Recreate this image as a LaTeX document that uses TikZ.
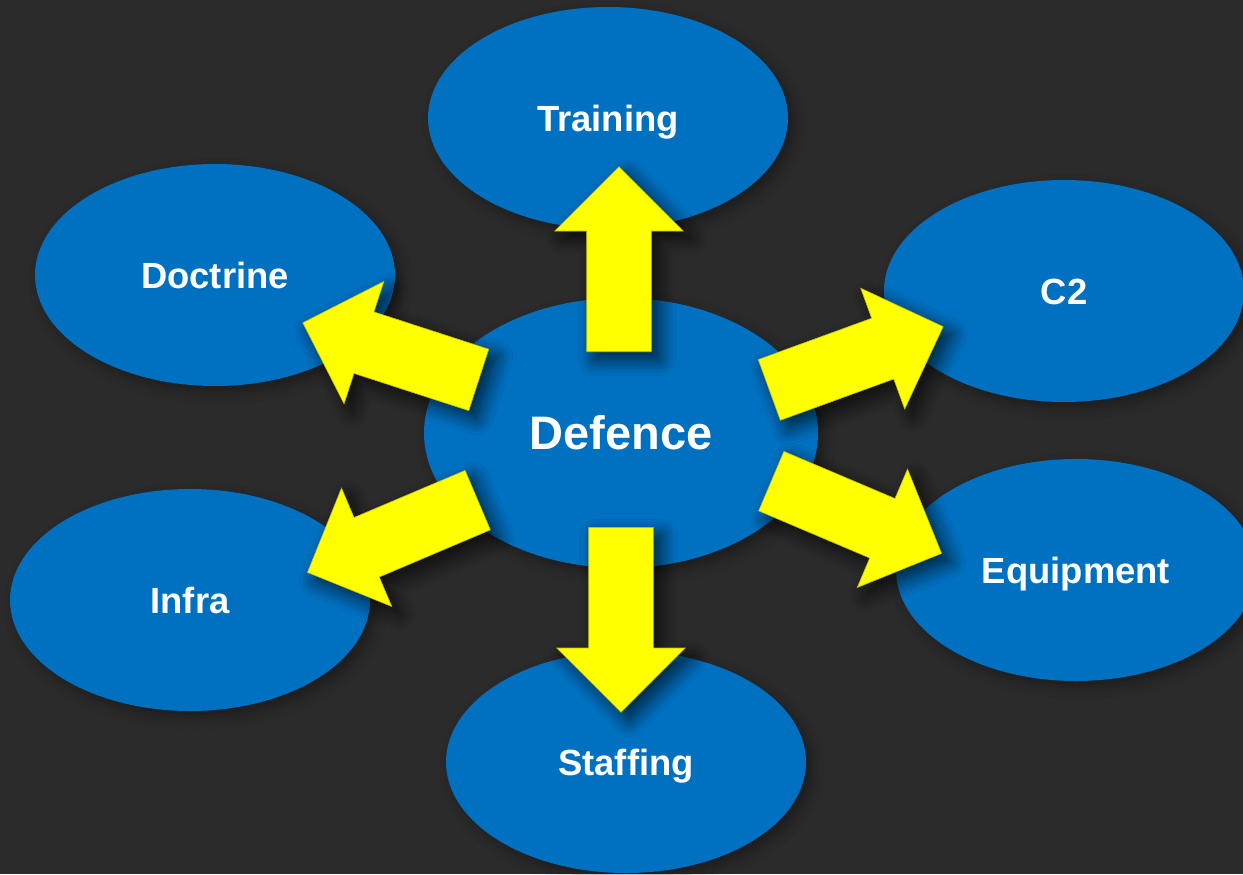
\documentclass[tikz,border=0pt]{standalone}
\usepackage{fontspec}
\setmainfont{Liberation Sans}
\usetikzlibrary{shapes.geometric,shapes.arrows,shadows.blur}
\definecolor{bgdark}{HTML}{2B2B2B}
\definecolor{capblue}{HTML}{0070C0}
\definecolor{pushyellow}{RGB}{255,255,0}
\tikzset{push/.style={single arrow,fill=pushyellow,draw=pushyellow!75!black,line width=0.3pt,anchor=tail,rotate=#1,
    inner xsep=0pt,inner ysep=16pt,text height=0pt,text depth=0pt,minimum height=92.5pt,
    single arrow head extend=16pt,single arrow head indent=0pt,
    blur shadow={shadow xshift=4pt,shadow yshift=-4pt,shadow blur radius=8pt,shadow blur steps=10,shadow opacity=70}}}
\begin{document}
\begin{tikzpicture}[x=0.5pt,y=-0.5pt]
        \tikzstyle{every node}=[text=white,font=\bfseries\fontsize{18.2}{20}\selectfont]
        \tikzstyle{area}=[ellipse,fill=capblue,inner sep=0pt,minimum width=180pt,minimum height=111pt,
            text height=13pt,text depth=0pt,
            blur shadow={shadow xshift=3pt,shadow yshift=-3pt,shadow blur radius=6pt,shadow opacity=35}]
        \fill[bgdark] (0,0) rectangle (1243,874);
        \useasboundingbox (0,0) rectangle (1243,874);
        % the six areas round the centre
        \node[area] (training) at (608,118) {Training};
        \node[area] (doctrine) at (215,275) {Doctrine};
        \node[area] (ctwo) at (1064,291) {C2};
        \node[area] (infra) at (190,600) {Infra};
        \node[area] (equipment) at (1076,570) {Equipment};
        \node[area] (staffing) at (626,762) {Staffing};
        \node[area,minimum width=197pt,minimum height=135pt,text height=16.8pt,
            font=\bfseries\fontsize{23.5}{26}\selectfont] (defence) at (621,433) {Defence};
        % arrows out of the centre
        \node[push=90] (toTraining) at (619,352) {};
        \node[push=-90] (toStaffing) at (621,527) {};
        \node[push=20] (toCtwo) at (769,390) {};
        \node[push=162] (toDoctrine) at (479,380) {};
        \node[push=203] (toInfra) at (478,500) {};
        \node[push=-23] (toEquipment) at (771,481) {};
\end{tikzpicture}
\end{document}
